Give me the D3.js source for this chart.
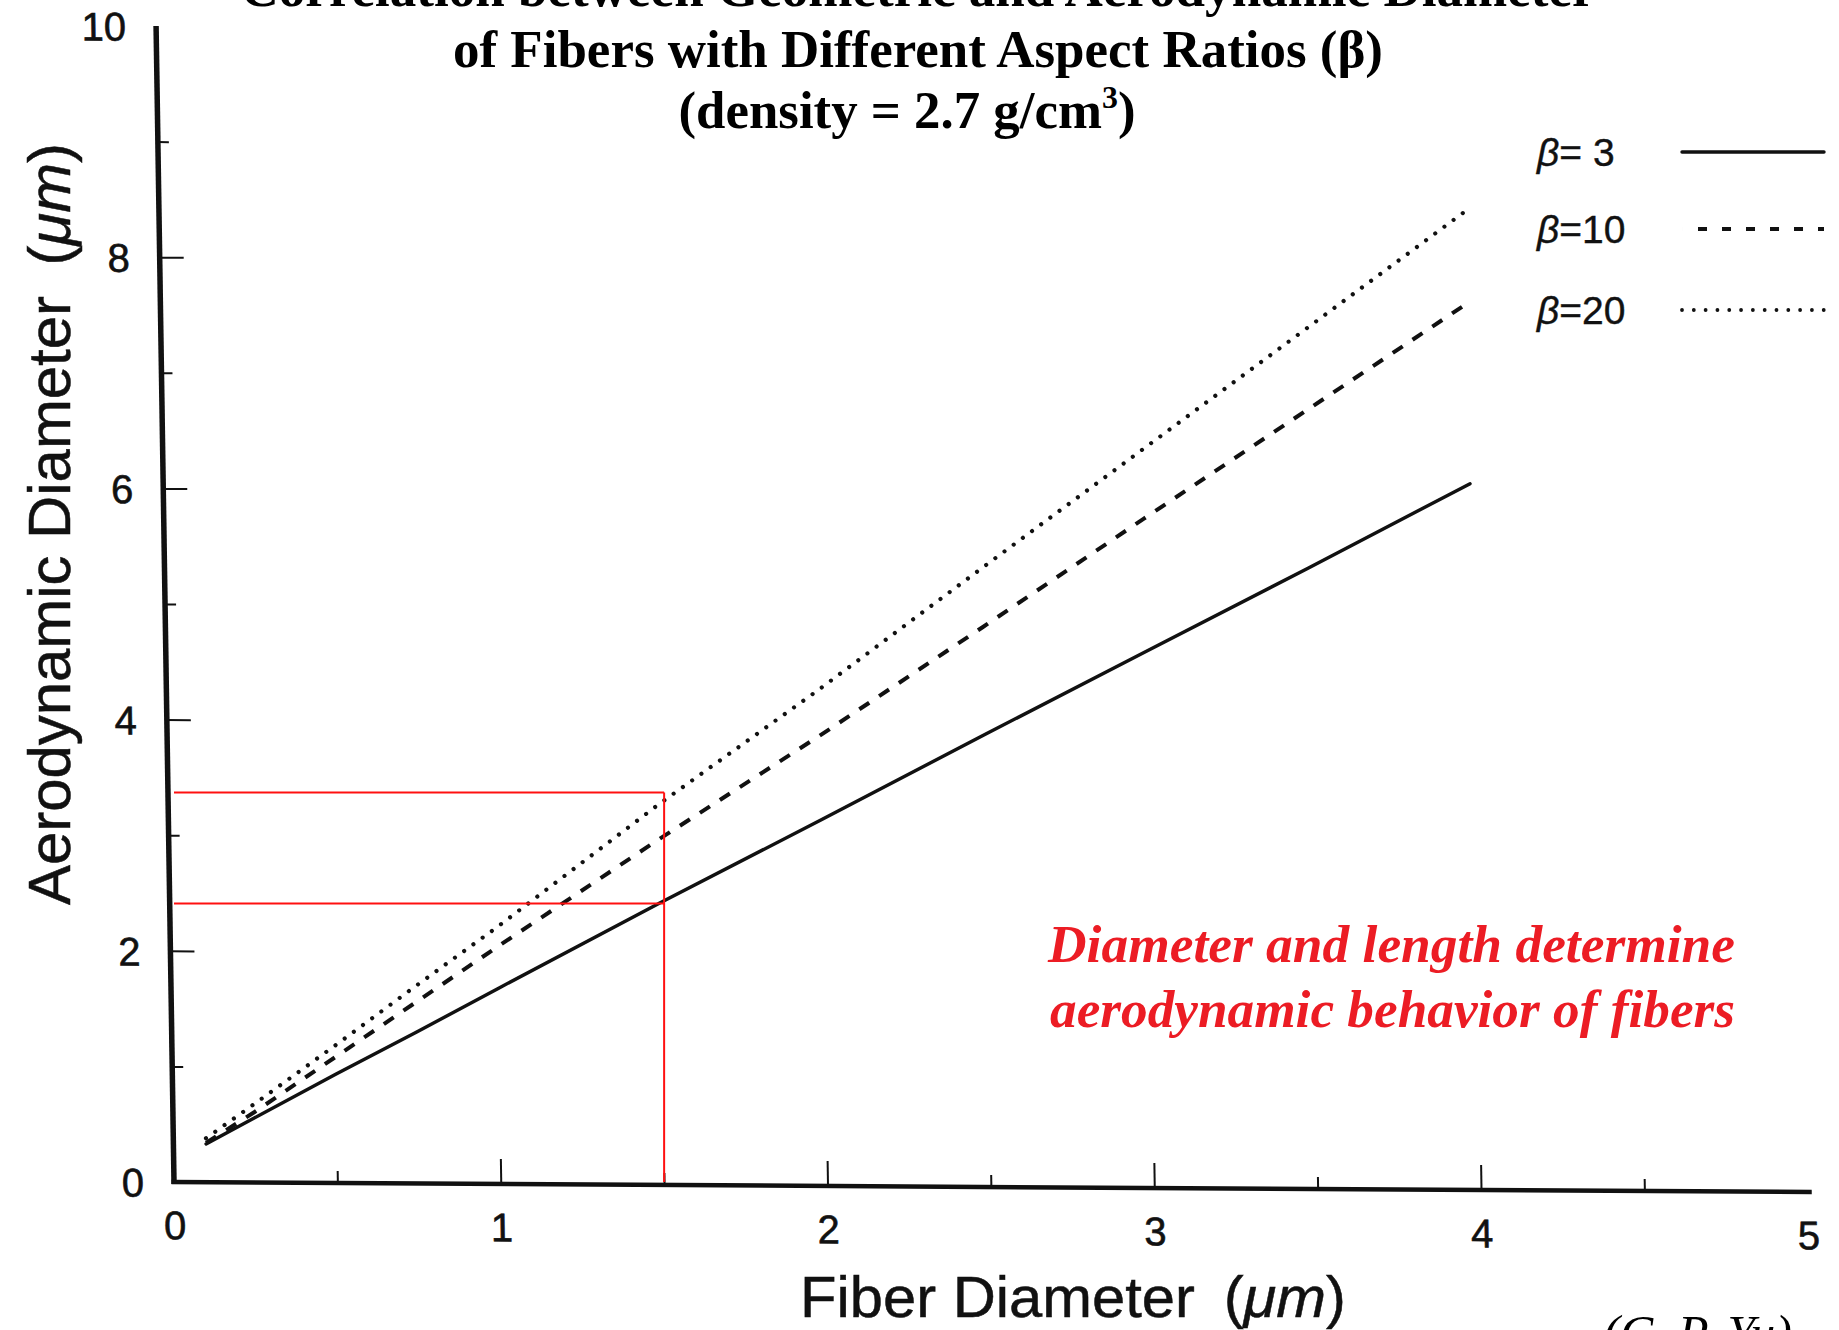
<!DOCTYPE html>
<html>
<head>
<meta charset="utf-8">
<script src="https://cdn.jsdelivr.net/npm/d3@7"></script>
<style>
  html, body { margin: 0; padding: 0; background: #ffffff; }
  svg { display: block; }
</style>
</head>
<body>
<svg id="chart" width="1839" height="1330"></svg>
<script>
// ---------------- DATA ----------------
const fiberDiameter = [0.1, 0.25, 0.5, 0.75, 1.0, 1.5, 2.0, 2.5, 3.0, 3.5, 4.0];
const beta3  = [0.33, 0.56, 0.94, 1.31, 1.69, 2.44, 3.17, 3.91, 4.64, 5.37, 6.11];
const beta10 = [0.34, 0.61, 1.09, 1.57, 2.05, 2.99, 3.90, 4.84, 5.79, 6.73, 7.67];
const beta20 = [0.38, 0.68, 1.19, 1.71, 2.22, 3.29, 4.30, 5.35, 6.39, 7.43, 8.47];
const seriesLabels = ["= 3", "=10", "=20"];

const xMajorTicks = [0, 1, 2, 3, 4, 5];
const xMinorTicks = [0.5, 1.5, 2.5, 3.5, 4.5];
const yMajorTicks = [0, 2, 4, 6, 8, 10];
const yMinorTicks = [1, 3, 5, 7, 9];

const markerX = 1.5;
const markerY = [2.41, 3.37];

const titleLines = [
  "Correlation between Geometric and Aerodynamic Diameter",
  "of Fibers with Different Aspect Ratios (\u03B2)",
  "(density = 2.7 g/cm"
];
const noteLines = ["Diameter and length determine", "aerodynamic behavior of fibers"];
const creditText = "(C. P. Yu)";

// ---------------- SETUP ----------------
const SANS = "'Liberation Sans', Arial, Helvetica, sans-serif";
const SERIF = "'Liberation Serif', 'Times New Roman', Times, serif";
const INK = "#111";

const svg = d3.select("#chart");
svg.append("rect").attr("width", 1839).attr("height", 1330).attr("fill", "#fff");

const X0 = 174, X1 = 1481 + (1481 - 174) / 4, Y0 = 1182, Y1 = 26;
const x = d3.scaleLinear().domain([0, 5]).range([X0, X1]);
const y = d3.scaleLinear().domain([0, 10]).range([Y0, Y1]);

// slight skew of the scanned figure
const skA = 0.0155, skB = 0.0061;
const plot = svg.append("g")
  .attr("transform", `matrix(1,${skB},${skA},1,${-skA * Y0},${-skB * X0})`);

// ---------------- AXES ----------------
const yAxisMajor = plot.append("g")
  .attr("transform", `translate(${X0},0)`)
  .call(d3.axisLeft(y).tickValues(yMajorTicks).tickSize(-24).tickPadding(30).tickFormat(d3.format("d")));
yAxisMajor.select(".domain").remove();
yAxisMajor.selectAll(".tick line").attr("stroke", INK).attr("stroke-width", 2)
  .filter(d => d === 0 || d === 10).remove();
yAxisMajor.selectAll(".tick text").attr("font-family", SANS).attr("font-size", 40).attr("fill", INK)
  .attr("stroke", INK).attr("stroke-width", 0.6).attr("dy", "0.36em");

const yAxisMinor = plot.append("g")
  .attr("transform", `translate(${X0},0)`)
  .call(d3.axisLeft(y).tickValues(yMinorTicks).tickSize(-11).tickFormat(""));
yAxisMinor.select(".domain").remove();
yAxisMinor.selectAll(".tick line").attr("stroke", INK).attr("stroke-width", 2);

const xAxisMajor = plot.append("g")
  .attr("transform", `translate(0,${Y0})`)
  .call(d3.axisBottom(x).tickValues(xMajorTicks).tickSize(-25).tickPadding(29).tickFormat(d3.format("d")));
xAxisMajor.select(".domain").remove();
xAxisMajor.selectAll(".tick line").attr("stroke", INK).attr("stroke-width", 2)
  .filter(d => d === 0 || d === 5).remove();
xAxisMajor.selectAll(".tick text").attr("font-family", SANS).attr("font-size", 40).attr("fill", INK)
  .attr("stroke", INK).attr("stroke-width", 0.6);

const xAxisMinor = plot.append("g")
  .attr("transform", `translate(0,${Y0})`)
  .call(d3.axisBottom(x).tickValues(xMinorTicks).tickSize(-12).tickFormat(""));
xAxisMinor.select(".domain").remove();
xAxisMinor.selectAll(".tick line").attr("stroke", INK).attr("stroke-width", 2);

// axis lines
plot.append("line").attr("x1", x(0)).attr("x2", x(0)).attr("y1", y(0) + 2).attr("y2", y(10))
  .attr("stroke", INK).attr("stroke-width", 5.5);
plot.append("line").attr("x1", x(0) - 2.5).attr("x2", x(5) + 4).attr("y1", y(0)).attr("y2", y(0))
  .attr("stroke", INK).attr("stroke-width", 4.5);

// ---------------- SERIES ----------------
const seriesStyles = [
  { values: beta3,  dash: null,        width: 3.4, cap: "round", legendDash: null },
  { values: beta10, dash: "12,12",     width: 4.0, cap: "butt",  legendDash: "0.01,16 9,15 9,15 9,15 9,15 9,15 9,15" },
  { values: beta20, dash: "0.01,11.5", width: 4.2, cap: "round", legendDash: "0.01,11.8" }
];

const line = d3.line().x(d => x(d[0])).y(d => y(d[1]));
seriesStyles.forEach(s => {
  const pts = fiberDiameter.map((fd, i) => [fd, s.values[i]]);
  plot.append("path")
    .attr("d", line(pts))
    .attr("fill", "none")
    .attr("stroke", INK)
    .attr("stroke-width", s.width)
    .attr("stroke-linecap", s.cap)
    .attr("stroke-linejoin", "round")
    .attr("stroke-dasharray", s.dash);
});

// ---------------- RED MARKERS (unskewed overlay) ----------------
const red = "#ff1010";
svg.append("line").attr("x1", x(markerX)).attr("x2", x(markerX))
  .attr("y1", y(0)).attr("y2", y(d3.max(markerY)))
  .attr("stroke", red).attr("stroke-width", 2);
markerY.forEach(v => {
  svg.append("line").attr("x1", x(0)).attr("x2", x(markerX))
    .attr("y1", y(v)).attr("y2", y(v))
    .attr("stroke", red).attr("stroke-width", 2);
});

// ---------------- LEGEND ----------------
const legend = svg.append("g");
const legendRows = [152, 229, 310];
seriesStyles.forEach((s, i) => {
  const t = legend.append("text")
    .attr("x", 1537).attr("y", legendRows[i] + 14)
    .attr("font-family", SANS).attr("font-size", 39).attr("fill", INK)
    .attr("stroke", INK).attr("stroke-width", 0.4);
  t.append("tspan").attr("font-style", "italic").text("\u03B2");
  t.append("tspan").text(seriesLabels[i]);
  legend.append("line")
    .attr("x1", 1682).attr("x2", 1824)
    .attr("y1", legendRows[i]).attr("y2", legendRows[i])
    .attr("stroke", INK)
    .attr("stroke-width", i === 0 ? 3.4 : 3.8)
    .attr("stroke-linecap", s.cap)
    .attr("stroke-dasharray", s.legendDash);
});

// ---------------- AXIS TITLES ----------------
const yTitle = svg.append("text")
  .attr("transform", "translate(70,905) rotate(-90)")
  .attr("font-family", SANS).attr("font-size", 59).attr("fill", INK)
  .attr("stroke", INK).attr("stroke-width", 0.5)
  .attr("textLength", 762).attr("lengthAdjust", "spacingAndGlyphs");
yTitle.append("tspan").text("Aerodynamic Diameter");
yTitle.append("tspan").attr("dx", 30).text("(");
yTitle.append("tspan").attr("font-style", "italic").text("\u03BCm");
yTitle.append("tspan").text(")");

const xTitle = svg.append("text")
  .attr("x", 800).attr("y", 1317)
  .attr("font-family", SANS).attr("font-size", 58).attr("fill", INK)
  .attr("stroke", INK).attr("stroke-width", 0.5)
  .attr("textLength", 546).attr("lengthAdjust", "spacingAndGlyphs");
xTitle.append("tspan").text("Fiber Diameter");
xTitle.append("tspan").attr("dx", 28).text("(");
xTitle.append("tspan").attr("font-style", "italic").text("\u03BCm");
xTitle.append("tspan").text(")");

// ---------------- TITLE ----------------
const titleBase = [6, 67, 128];
const titleWidths = [1355, 930, 457];
const titleCenters = [918, 918, 907];
titleLines.forEach((tl, i) => {
  const t = svg.append("text")
    .attr("x", titleCenters[i]).attr("y", titleBase[i])
    .attr("text-anchor", "middle")
    .attr("font-family", SERIF).attr("font-weight", "bold").attr("font-size", 53).attr("fill", "#000")
    .attr("textLength", titleWidths[i]).attr("lengthAdjust", "spacingAndGlyphs");
  t.append("tspan").text(tl);
  if (i === 2) {
    t.append("tspan").attr("font-size", 32).attr("dy", -20).text("3");
    t.append("tspan").attr("dy", 20).text(")");
  }
});

// ---------------- RED NOTE ----------------
const noteBase = [962, 1027];
noteLines.forEach((nl, i) => {
  svg.append("text")
    .attr("x", i === 0 ? 1048 : 1050).attr("y", noteBase[i])
    .attr("font-family", SERIF).attr("font-weight", "bold").attr("font-style", "italic")
    .attr("font-size", 53).attr("fill", "#ec1c24")
    .attr("textLength", i === 0 ? 687 : 685).attr("lengthAdjust", "spacingAndGlyphs")
    .text(nl);
});

// ---------------- CREDIT ----------------
svg.append("text")
  .attr("x", 1792).attr("y", 1350)
  .attr("text-anchor", "end")
  .attr("font-family", SERIF).attr("font-style", "italic").attr("font-size", 50).attr("fill", "#000")
  .text(creditText);
</script>
</body>
</html>
